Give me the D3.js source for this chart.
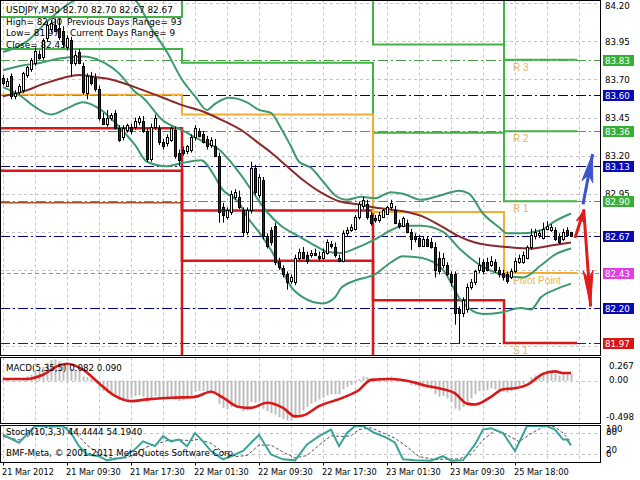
<!DOCTYPE html>
<html><head><meta charset="utf-8">
<script src="https://cdn.jsdelivr.net/npm/d3@7"></script>
<style>
html,body{margin:0;padding:0;background:#fff;}
svg{display:block;font-family:"DejaVu Sans",sans-serif;}
</style></head><body>
<svg id="c" width="640" height="480"></svg>
<script>
// ---------------- DATA ----------------
// M30 candles [open, high, low, close], bar 0 = 21 Mar 01:30
const candles = [
[83.71,83.73,83.66,83.68],[83.66,83.71,83.65,83.69],[83.72,83.74,83.57,83.59],[83.59,83.63,83.57,83.61],
[83.62,83.67,83.60,83.66],[83.63,83.75,83.61,83.74],[83.73,83.79,83.71,83.78],[83.77,83.84,83.75,83.83],
[83.81,83.91,83.79,83.89],[83.87,83.89,83.83,83.84],[83.85,83.97,83.83,83.96],[83.97,84.08,83.95,84.06],
[84.03,84.09,84.01,84.07],[84.06,84.10,84.01,84.02],[84.04,84.10,83.96,83.98],[84.02,84.05,83.91,83.93],
[83.91,83.99,83.89,83.97],[83.96,83.98,83.72,83.81],[83.81,83.89,83.79,83.86],[83.88,83.90,83.80,83.81],
[83.79,83.81,83.60,83.62],[83.61,83.74,83.57,83.72],[83.72,83.75,83.66,83.68],[83.71,83.74,83.62,83.64],
[83.64,83.66,83.43,83.45],[83.45,83.48,83.40,83.41],[83.41,83.50,83.39,83.45],[83.45,83.48,83.43,83.47],
[83.48,83.50,83.37,83.38],[83.38,83.40,83.29,83.30],[83.32,83.40,83.30,83.38],[83.37,83.41,83.35,83.40],
[83.39,83.41,83.34,83.36],[83.39,83.45,83.37,83.43],[83.42,83.46,83.40,83.45],[83.43,83.46,83.35,83.36],
[83.36,83.38,83.16,83.18],[83.18,83.41,83.16,83.39],[83.39,83.47,83.37,83.45],[83.38,83.40,83.27,83.29],
[83.29,83.31,83.24,83.26],[83.28,83.34,83.26,83.32],[83.30,83.39,83.29,83.38],[83.37,83.39,83.18,83.20],
[83.22,83.24,83.13,83.17],[83.24,83.26,83.20,83.22],[83.23,83.27,83.21,83.26],[83.24,83.34,83.22,83.32],
[83.32,83.40,83.30,83.38],[83.36,83.38,83.32,83.33],[83.34,83.36,83.28,83.29],[83.31,83.33,83.24,83.26],
[83.27,83.32,83.25,83.30],[83.26,83.31,83.19,83.20],[83.20,83.22,82.76,82.83],[82.86,82.89,82.76,82.81],
[82.80,82.86,82.78,82.84],[82.83,82.97,82.81,82.95],[82.93,82.98,82.91,82.96],[82.93,82.97,82.85,82.86],
[82.84,82.86,82.67,82.70],[82.70,82.86,82.68,82.84],[82.84,83.16,82.82,83.12],[83.12,83.14,82.94,82.96],
[82.94,83.08,82.92,83.06],[83.04,83.06,82.65,82.67],[82.67,82.69,82.59,82.61],[82.71,82.73,82.61,82.63],
[82.74,82.76,82.48,82.50],[82.51,82.53,82.45,82.47],[82.46,82.48,82.40,82.42],[82.42,82.44,82.32,82.37],
[82.38,82.42,82.36,82.40],[82.37,82.55,82.35,82.53],[82.53,82.59,82.51,82.57],[82.57,82.60,82.52,82.53],
[82.55,82.57,82.49,82.51],[82.55,82.58,82.53,82.56],[82.56,82.59,82.54,82.55],[82.54,82.57,82.51,82.53],
[82.53,82.59,82.52,82.57],[82.56,82.65,82.55,82.63],[82.62,82.64,82.59,82.61],[82.60,82.63,82.53,82.55],
[82.53,82.55,82.50,82.51],[82.51,82.71,82.50,82.69],[82.69,82.73,82.67,82.71],[82.71,82.75,82.70,82.73],
[82.72,82.81,82.71,82.80],[82.80,82.90,82.78,82.88],[82.87,82.93,82.85,82.91],[82.88,82.91,82.78,82.80],
[82.81,82.83,82.74,82.76],[82.79,82.81,82.76,82.78],[82.78,82.83,82.76,82.81],[82.80,82.85,82.79,82.84],
[82.82,82.87,82.81,82.86],[82.86,82.91,82.84,82.89],[82.84,82.87,82.75,82.76],[82.76,82.78,82.72,82.74],
[82.74,82.80,82.73,82.79],[82.76,82.78,82.69,82.70],[82.70,82.72,82.58,82.65],[82.67,82.69,82.63,82.65],
[82.66,82.68,82.60,82.61],[82.61,82.67,82.60,82.65],[82.65,82.67,82.60,82.61],[82.63,82.66,82.59,82.60],
[82.60,82.63,82.40,82.45],[82.53,82.57,82.42,82.44],[82.48,82.56,82.46,82.53],[82.48,82.50,82.41,82.42],
[82.42,82.44,82.34,82.37],[82.42,82.44,82.09,82.17],[82.19,82.21,81.97,82.17],[82.17,82.27,82.14,82.25],
[82.19,82.36,82.17,82.34],[82.34,82.39,82.32,82.37],[82.37,82.45,82.35,82.44],[82.45,82.53,82.43,82.48],
[82.50,82.52,82.42,82.44],[82.50,82.53,82.44,82.45],[82.48,82.54,82.47,82.51],[82.50,82.52,82.43,82.45],
[82.45,82.47,82.40,82.42],[82.43,82.45,82.38,82.40],[82.42,82.44,82.36,82.38],[82.40,82.46,82.39,82.44],
[82.44,82.53,82.43,82.51],[82.50,82.55,82.49,82.53],[82.50,82.57,82.49,82.55],[82.53,82.61,82.52,82.60],
[82.60,82.72,82.58,82.68],[82.67,82.72,82.65,82.70],[82.68,82.71,82.66,82.69],[82.66,82.76,82.65,82.72],
[82.72,82.77,82.71,82.74],[82.71,82.75,82.70,82.73],[82.71,82.73,82.64,82.65],[82.67,82.69,82.62,82.63],
[82.65,82.72,82.64,82.70],[82.71,82.73,82.67,82.68],[82.70,82.70,82.67,82.67]
];

const timeLabels = ["21 Mar 2012","21 Mar 09:30","21 Mar 17:30","22 Mar 01:30","22 Mar 09:30","22 Mar 17:30","23 Mar 01:30","23 Mar 09:30","25 Mar 18:00"];
const timeLabelBars = [0,16,32,48,64,80,96,112,128];
const priceTicks = [84.20,83.95,83.70,83.45,83.20,82.95,82.70,82.45,82.20,81.95];

// horizontal level lines and their type (R = resistance, M = mid, P = pivot, S = support)
const levelValues = [83.83,83.60,83.36,83.13,82.90,82.67,82.43,82.20,81.97];
const levelKinds  = ["R","M","R","M","R","M","P","M","S"];

// daily pivot levels (one value per day), day boundaries in bar units
const dayEdges = [-0.75,44.75,92.5,125.25,143.5];
const pivotR3 = [84.41,84.79,84.42,83.83];
const pivotR2 = [84.11,84.45,83.93,83.36];
const pivotR1 = [83.90,83.81,83.35,82.90];
const pivotPP = [83.60,83.47,82.83,82.43];
const pivotS1 = [83.38,82.84,82.25,81.97];
const pivotS2 = [83.10,82.51,81.75,81.50];
const pivotS3 = [82.89,81.87,81.18,81.04];
const pivotNames = ["R 3","R 2","R 1","Pivot Point","S 1"];

// indicator lines: [bar, value]
const bbUpper = [[0,83.88],[6,83.95],[11,84.08],[16,84.19],[21,84.25],[27,84.27],[33,84.22],[37,84.04],[41,83.88],[44.5,83.71],[48,83.59],[51,83.50],[53,83.54],[56.5,83.58],[61,83.55],[64,83.50],[67,83.48],[69.5,83.38],[72,83.26],[74,83.16],[77,83.12],[80,83.03],[83,82.94],[86,82.91],[89.5,82.93],[93,82.92],[97,82.96],[100,82.95],[104.5,82.91],[109.5,82.94],[114,82.97],[116.5,82.95],[120,82.82],[124,82.73],[126,82.69],[129.5,82.69],[134.5,82.71],[138,82.77],[142,82.82]];
const bbMiddle = [[0,83.76],[4.5,83.79],[9.5,83.81],[14.5,83.84],[20,83.85],[24.5,83.82],[29,83.74],[33,83.62],[35,83.58],[40,83.43],[44.5,83.37],[49.5,83.30],[54,83.24],[59,83.09],[63,82.94],[66,82.83],[69.5,82.74],[74,82.67],[78,82.61],[81,82.57],[84.5,82.56],[88,82.59],[93,82.65],[97,82.71],[100,82.74],[104.5,82.74],[110,82.70],[114.5,82.58],[120,82.47],[124.5,82.42],[130,82.40],[134.5,82.48],[138,82.55],[142,82.59]];
const bbLower = [[0,83.65],[4.5,83.59],[8,83.52],[12,83.47],[16,83.51],[20,83.55],[24.5,83.50],[29,83.39],[33,83.27],[36,83.16],[41,83.13],[44.5,83.15],[49.5,83.17],[53,83.06],[54.5,82.99],[59,82.89],[61,82.80],[64.5,82.68],[67,82.58],[69.5,82.46],[72,82.34],[75,82.27],[80,82.23],[83,82.27],[84.5,82.33],[88,82.38],[93,82.42],[97,82.50],[100,82.54],[104.5,82.53],[110,82.45],[114.5,82.25],[120,82.16],[124.5,82.17],[129.5,82.20],[132,82.19],[134.5,82.27],[138,82.32],[142,82.36]];
const maSlow = [[0,83.59],[5,83.62],[10,83.67],[15,83.71],[19,83.73],[22,83.72],[27,83.70],[35,83.63],[40,83.58],[45,83.53],[50,83.49],[55,83.43],[60,83.36],[63,83.30],[67,83.22],[71,83.13],[75,83.04],[80,82.95],[84,82.90],[89,82.88],[93,82.86],[101,82.83],[105,82.80],[110,82.73],[114,82.67],[118,82.63],[122,82.61],[126,82.60],[132,82.59],[137,82.61],[142,82.63]];

// projection arrows: [bar, price] points
const arrowUp   = [[145,82.88],[147.4,83.21]];
const arrowDown = [[143,82.66],[145.2,82.84],[146.9,82.21]];

// MACD(5,35,5) histogram per bar and signal line
const macdHist = [
0.03,0.02,0.00,-0.01,0.00,0.02,0.05,0.07,
0.10,0.12,0.16,0.21,0.24,0.25,0.23,0.20,
0.19,0.14,0.13,0.12,0.05,0.04,0.02,-0.01,
-0.08,-0.12,-0.14,-0.15,-0.19,-0.23,-0.23,-0.22,
-0.20,-0.18,-0.17,-0.19,-0.25,-0.21,-0.18,-0.21,
-0.22,-0.21,-0.19,-0.22,-0.24,-0.23,-0.21,-0.17,
-0.13,-0.12,-0.12,-0.13,-0.12,-0.14,-0.27,-0.32,
-0.34,-0.31,-0.29,-0.30,-0.36,-0.35,-0.25,-0.26,
-0.24,-0.33,-0.36,-0.38,-0.40,-0.43,-0.45,-0.47,
-0.47,-0.44,-0.39,-0.35,-0.31,-0.27,-0.25,-0.22,
-0.20,-0.17,-0.16,-0.16,-0.16,-0.10,-0.07,-0.05,
-0.02,0.02,0.05,0.04,0.03,0.03,0.03,0.03,
0.04,0.05,0.02,0.00,0.00,-0.02,-0.05,-0.06,
-0.08,-0.08,-0.09,-0.10,-0.16,-0.19,-0.18,-0.21,
-0.25,-0.33,-0.35,-0.31,-0.25,-0.21,-0.16,-0.12,
-0.12,-0.11,-0.09,-0.10,-0.12,-0.13,-0.14,-0.12,
-0.08,-0.06,-0.04,-0.01,0.04,0.06,0.07,0.10,
0.12,0.12,0.08,0.06,0.08,0.08,0.082
];
const macdSignal = [[0,0.02],[6,0.02],[10,0.07],[14,0.18],[16,0.20],[20,0.13],[24,-0.03],[28,-0.18],[32,-0.24],[36,-0.22],[42,-0.20],[48,-0.19],[52,-0.13],[55,-0.20],[59,-0.31],[62,-0.32],[66,-0.26],[70,-0.32],[73,-0.42],[75,-0.41],[79,-0.30],[85,-0.20],[89,-0.11],[92,0.01],[97,0.02],[101,0.00],[105,-0.05],[109,-0.09],[113,-0.15],[116,-0.27],[118,-0.28],[122,-0.19],[125,-0.10],[128,-0.09],[131,-0.05],[135,0.08],[138,0.11],[140,0.09],[142,0.09]];
const macdTicks = [0.267,0.00,-0.498];
const macdTickText = ["0.267","0.00","-0.498"];

// Stochastic(10,3,3)
const stochMain = [[0,75],[4,52],[8,100],[10,100],[13,99],[15,100],[17,80],[19,42],[21,18],[24,13],[26,1],[30,9],[33,33],[35,56],[38,42],[40,71],[42,56],[44,61],[46,42],[48,80],[50,56],[52,28],[55,4],[57,13],[60,28],[64,75],[67,18],[70,4],[73,1],[76,47],[79,71],[82,90],[84,42],[86,80],[88,100],[90,100],[93,80],[96,66],[98,52],[100,4],[103,1],[107,0],[110,13],[112,0],[115,1],[118,47],[120,90],[122,94],[125,80],[128,28],[131,100],[133,100],[136,100],[138,90],[140,61],[141,61],[142,44.44]];
const stochSignal = [[0,70],[4,60],[7,75],[10,95],[14,100],[17,92],[19,70],[21,45],[24,20],[27,8],[30,6],[33,18],[36,40],[39,50],[41,58],[44,60],[47,58],[49,62],[52,50],[55,25],[58,12],[61,15],[64,45],[67,45],[70,25],[73,8],[76,15],[79,45],[82,72],[85,70],[87,72],[89,90],[92,95],[95,80],[98,65],[101,40],[104,12],[108,3],[111,5],[114,5],[117,18],[120,60],[123,88],[126,75],[129,55],[132,78],[135,98],[138,98],[140,80],[142,54.19]];
const stochLevels = [80,20];
const stochTickVals = [100,80,20,0];

const infoLines = [["USDJPY,M30  82.70 82.70 82.67 82.67",""],["High= 82.90","Previous Days Range= 93"],["Low= 81.97","Current Days Range= 9"],["Close= 82.43",""]];

// ---------------- LAYOUT / SCALES ----------------
const PR = 600;
const FS = 8.7;
const mainP = {t:0.5,b:355.5}, macdP = {t:357.5,b:423.5}, stoP = {t:425.5,b:462.5};
const xS = d3.scaleLinear().domain([0,142]).range([3,571]);
const yS = d3.scaleLinear().domain([84.20,81.97]).range([3.3,343]);
const yM = d3.scaleLinear().domain([-0.498,0.267]).range([423,358]);
const yK = d3.scaleLinear().domain([0,100]).range([460.7,426.1]);

const svg = d3.select("#c");
svg.append("rect").attr("width",640).attr("height",480).attr("fill","#fff");
const defs = svg.append("defs");
function clip(id,p){ defs.append("clipPath").attr("id",id).append("rect").attr("x",0).attr("y",p.t).attr("width",PR).attr("height",p.b-p.t); }
clip("cMain",mainP); clip("cMacd",macdP); clip("cSto",stoP);

const gridBars = d3.range(0,152,8);
function vgrid(g,p){
  g.selectAll(null).data(gridBars.filter(b=>xS(b)<PR-1)).join("line")
   .attr("x1",b=>Math.round(xS(b))+0.5).attr("x2",b=>Math.round(xS(b))+0.5)
   .attr("y1",p.t).attr("y2",p.b).attr("stroke","#c4c4c4").attr("stroke-dasharray","3,3");
}

// ---------- MAIN PANEL ----------
const gm = svg.append("g").attr("clip-path","url(#cMain)");
vgrid(gm,mainP);
gm.selectAll(null).data(priceTicks).join("line")
  .attr("x1",0).attr("x2",PR).attr("y1",d=>Math.round(yS(d))+0.5).attr("y2",d=>Math.round(yS(d))+0.5)
  .attr("stroke","#c4c4c4").attr("stroke-dasharray","3,3");

const kindLine = {R:["#4c9c4c","10,3,2,3"],M:["#000080","10,3,2,3"],P:["#ff4cff","4,3"],S:["#8b0000","10,3,2,3"]};
const kindBox = {R:"#35b035",M:"#0a0ab4",P:"#e63ce6",S:"#dc1414"};
gm.selectAll(null).data(levelValues).join("line")
  .attr("x1",0).attr("x2",PR).attr("y1",d=>Math.round(yS(d))+0.5).attr("y2",d=>Math.round(yS(d))+0.5)
  .attr("stroke",(d,i)=>kindLine[levelKinds[i]][0]).attr("stroke-dasharray",(d,i)=>kindLine[levelKinds[i]][1]);

// pivot step lines
function stepPath(vals,fromDay){
  let p="";
  for(let d=fromDay; d<vals.length; d++){
    const x0=xS(dayEdges[d]), x1=xS(dayEdges[d+1]), yy=yS(vals[d]);
    if(d===fromDay && d>0) p += "M"+x0+","+yS(vals[d-1]);
    p += (p===""?"M":"L")+x0+","+yy+"L"+x1+","+yy;
  }
  return p;
}
const pivotSeries = [
  {v:pivotR3,c:"#44b244",w:2},{v:pivotR2,c:"#44b244",w:2},{v:pivotR1,c:"#44b244",w:2},
  {v:pivotS2,c:"#d81818",w:2.5},{v:pivotS1,c:"#d81818",w:2.5},
  {v:pivotPP,c:"#f2ae32",w:2}
];
// first-day S3 segment is thin and brownish in the reference, its later steps are thick red
gm.append("line").attr("x1",xS(dayEdges[0])).attr("x2",xS(dayEdges[1])).attr("y1",yS(pivotS3[0])).attr("y2",yS(pivotS3[0]))
  .attr("stroke","#a8552a").attr("stroke-width",1.5);
gm.append("path").attr("d",stepPath(pivotS3,1)).attr("fill","none").attr("stroke","#d81818").attr("stroke-width",2.5);
pivotSeries.forEach(s=>{
  gm.append("path").attr("d",stepPath(s.v,0)).attr("fill","none").attr("stroke",s.c).attr("stroke-width",s.w);
});
const lastDay = pivotR3.length-1;
const pivotLabelVals = [pivotR3[lastDay],pivotR2[lastDay],pivotR1[lastDay],pivotPP[lastDay],pivotS1[lastDay]];
gm.selectAll(null).data(pivotLabelVals).join("text")
  .attr("x",xS(dayEdges[lastDay])+9).attr("y",d=>yS(d)+11)
  .attr("font-family","Liberation Sans, Arial, sans-serif").attr("font-size",10).attr("fill","#e6b45a")
  .text((d,i)=>pivotNames[i]);

// bands and moving average
const lineGen = d3.line().x(d=>xS(d[0])).y(d=>yS(d[1])).curve(d3.curveMonotoneX);
[bbUpper,bbMiddle,bbLower].forEach(s=>{
  gm.append("path").attr("d",lineGen(s)).attr("fill","none").attr("stroke","#3e9a6e").attr("stroke-width",2);
});
gm.append("path").attr("d",lineGen(maSlow)).attr("fill","none").attr("stroke","#8a2a2a").attr("stroke-width",2);

// candles
const gc = gm.append("g");
candles.forEach((c,i)=>{
  const [o,h,l,cl]=c, cx=Math.round(xS(i));
  gc.append("line").attr("x1",cx+0.5).attr("x2",cx+0.5).attr("y1",yS(h)).attr("y2",yS(l)).attr("stroke","#000").attr("stroke-width",1);
  const top=Math.round(yS(Math.max(o,cl))), bot=Math.round(yS(Math.min(o,cl)));
  gc.append("rect").attr("x",cx-0.5).attr("y",top+0.5).attr("width",2).attr("height",Math.max(0.5,bot-top))
    .attr("fill",cl>=o?"#ffffff":"#153a18").attr("stroke","#000").attr("stroke-width",1);
});

// arrows
function drawArrow(g,pts,color,headLen,headW,startHead){
  const P = pts.map(d=>[xS(d[0]),yS(d[1])]);
  g.append("path").attr("d",d3.line()(P)).attr("fill","none").attr("stroke",color).attr("stroke-width",3).attr("stroke-linejoin","round");
  function head(a,b,len,w){
    const dx=b[0]-a[0], dy=b[1]-a[1], L=Math.hypot(dx,dy), ux=dx/L, uy=dy/L;
    const bx=b[0]-ux*len, by=b[1]-uy*len, nx=-uy, ny=ux;
    const nb=[b[0]-ux*len*0.75, b[1]-uy*len*0.75];
    g.append("path").attr("d",`M${b[0]},${b[1]}L${bx+nx*w},${by+ny*w}L${nb[0]},${nb[1]}L${bx-nx*w},${by-ny*w}Z`).attr("fill",color).attr("stroke",color).attr("stroke-width",1);
  }
  head(P[P.length-2],P[P.length-1],headLen,headW);
  if(startHead) head(P[0],P[1],12,4);
}
drawArrow(gm,arrowUp,"#3d55c8",28,5.5,false);
drawArrow(gm,arrowDown,"#e01c1c",36,5,true);

// info text
const gt = gm.append("g").attr("font-size",8.9).attr("fill","#000");
infoLines.forEach((ln,k)=>{
  gt.append("text").attr("x",6).attr("y",13+k*11.6).text(ln[0]);
  if(ln[1]) gt.append("text").attr("x",k===1?67:70).attr("y",13+k*11.6).text(ln[1]);
});

// frame + price axis
svg.append("rect").attr("x",0.5).attr("y",mainP.t).attr("width",PR).attr("height",mainP.b-mainP.t).attr("fill","none").attr("stroke","#000");
const ga = svg.append("g").attr("font-size",FS);
const visibleTicks = priceTicks.filter(t=>levelValues.every(v=>Math.abs(yS(v)-yS(t))>6));
ga.selectAll(null).data(visibleTicks).join("text").attr("x",605).attr("y",d=>Math.max(yS(d)+3.5,8.5)).attr("fill","#000").text(d=>d.toFixed(2));
levelValues.forEach((v,i)=>{
  const yy=Math.round(yS(v));
  ga.append("rect").attr("x",603).attr("y",yy-5).attr("width",31).attr("height",11).attr("fill",kindBox[levelKinds[i]]);
  ga.append("text").attr("x",605).attr("y",yy+4).attr("fill","#fff").text(v.toFixed(2));
});

// ---------- MACD PANEL ----------
const gmc = svg.append("g").attr("clip-path","url(#cMacd)");
vgrid(gmc,macdP);
gmc.append("line").attr("x1",0).attr("x2",PR).attr("y1",Math.round(yM(0))+0.5).attr("y2",Math.round(yM(0))+0.5).attr("stroke","#c4c4c4").attr("stroke-dasharray","3,3");
gmc.selectAll(null).data(macdHist).join("line")
  .attr("x1",(d,i)=>Math.round(xS(i))+0.5).attr("x2",(d,i)=>Math.round(xS(i))+0.5)
  .attr("y1",yM(0)).attr("y2",d=>yM(d)).attr("stroke","#bdbdbd").attr("stroke-width",2);
const lineM = d3.line().x(d=>xS(d[0])).y(d=>yM(d[1])).curve(d3.curveMonotoneX);
gmc.append("path").attr("d",lineM(macdSignal)).attr("fill","none").attr("stroke","#d61a1a").attr("stroke-width",2.6);
gmc.append("text").attr("x",6).attr("y",371).attr("font-size",FS).attr("fill","#000").text("MACD(5,35,5) 0.082 0.090");
svg.append("rect").attr("x",0.5).attr("y",macdP.t).attr("width",PR).attr("height",macdP.b-macdP.t).attr("fill","none").attr("stroke","#000");
svg.selectAll(null).data(macdTicks).join("text").attr("font-size",FS).attr("fill","#000")
  .attr("x",(d,i)=>i===2?606:609).attr("y",(d,i)=>[369,383,420][i]).text((d,i)=>macdTickText[i]);

// ---------- STOCH PANEL ----------
const gs = svg.append("g").attr("clip-path","url(#cSto)");
vgrid(gs,stoP);
gs.selectAll(null).data(stochLevels).join("line").attr("x1",0).attr("x2",PR)
  .attr("y1",d=>Math.round(yK(d))+0.5).attr("y2",d=>Math.round(yK(d))+0.5).attr("stroke","#c4c4c4").attr("stroke-dasharray","3,3");
const lineK = d3.line().x(d=>xS(d[0])).y(d=>yK(d[1]));
gs.append("path").attr("d",lineK(stochSignal)).attr("fill","none").attr("stroke","#505050").attr("stroke-width",1).attr("stroke-dasharray","3,2");
gs.append("path").attr("d",lineK(stochMain)).attr("fill","none").attr("stroke","#3aa39a").attr("stroke-width",2);
gs.append("text").attr("x",6).attr("y",435).attr("font-size",FS).attr("fill","#000").text("Stoch(10,3,3) 44.4444 54.1940");
gs.append("text").attr("x",6).attr("y",456).attr("font-size",FS).attr("fill","#000").text("BMF-Meta, \u00a9 2001-2011 MetaQuotes Software Corp.");
svg.append("rect").attr("x",0.5).attr("y",stoP.t).attr("width",PR).attr("height",stoP.b-stoP.t).attr("fill","none").attr("stroke","#000");
const stoTickY=[432,435,453,457];
svg.selectAll(null).data(stochTickVals).join("text").attr("font-size",FS).attr("fill","#000")
  .attr("x",606).attr("y",(d,i)=>stoTickY[i]).text(d=>d);

// ---------- TIME AXIS ----------
svg.selectAll(null).data(timeLabelBars).join("text").attr("font-size",8.2).attr("fill","#000")
  .attr("x",b=>Math.max(2,xS(b)-1)).attr("y",475).text((b,i)=>timeLabels[i]);
svg.selectAll(null).data(timeLabelBars).join("line")
  .attr("x1",b=>Math.round(xS(b))+0.5).attr("x2",b=>Math.round(xS(b))+0.5).attr("y1",stoP.b).attr("y2",stoP.b+3).attr("stroke","#000");
</script>
</body></html>
